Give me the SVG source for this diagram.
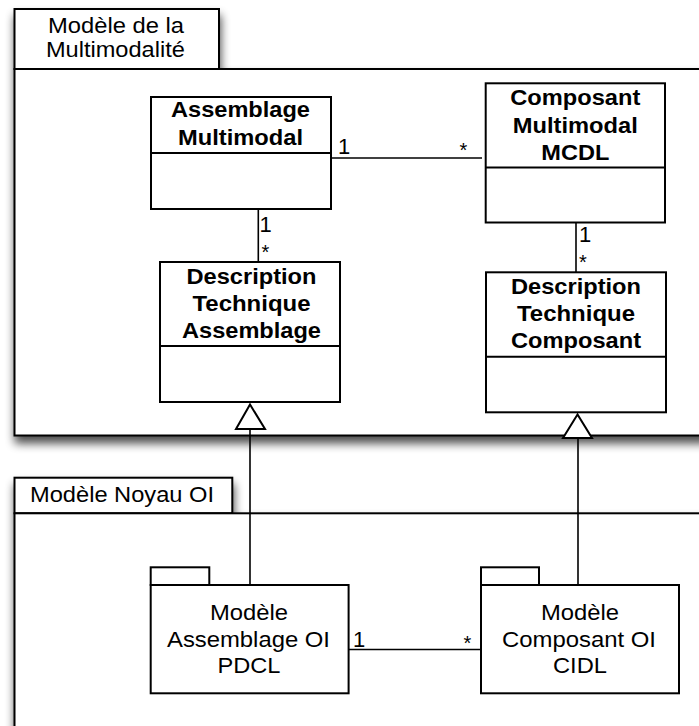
<svg xmlns="http://www.w3.org/2000/svg" width="699" height="726" viewBox="0 0 699 726">
<defs>
<style>
.pkg{fill:#fff;stroke:#000;stroke-width:2}
.cls{fill:#fff;stroke:#000;stroke-width:2}
.ln{stroke:#000;stroke-width:1.6;fill:none}
.tri{fill:#fff;stroke:#000;stroke-width:2;stroke-linejoin:miter}
.t{font-family:"Liberation Sans",Arial,Helvetica,sans-serif;font-size:22px;fill:#000;text-anchor:middle}
.b{font-weight:bold}
.m{font-family:"Liberation Sans",Arial,Helvetica,sans-serif;font-size:22px;fill:#000}
.s{font-family:"Liberation Sans",Arial,Helvetica,sans-serif;font-size:20px;fill:#000}
</style>
<filter id="shadow" x="-10%" y="-20%" width="125%" height="150%">
<feGaussianBlur in="SourceAlpha" stdDeviation="5"/>
<feOffset dx="1" dy="7" result="b"/>
<feComponentTransfer><feFuncA type="linear" slope="0.7"/></feComponentTransfer>
<feMerge><feMergeNode/><feMergeNode in="SourceGraphic"/></feMerge>
</filter>
</defs>
<rect width="699" height="726" fill="#fff"/>

<g id="pkg-multimodalite">
<g filter="url(#shadow)">
<rect class="pkg" x="14.5" y="9" width="204.5" height="60"/>
<rect class="pkg" x="14.5" y="69" width="720" height="366.5"/>
</g>
<text class="t" x="116" y="33.3" textLength="136" lengthAdjust="spacingAndGlyphs">Modèle de la</text>
<text class="t" x="115.4" y="56.7" textLength="139" lengthAdjust="spacingAndGlyphs">Multimodalité</text>
</g>

<g id="pkg-noyau">
<g filter="url(#shadow)">
<rect class="pkg" x="14.5" y="477.7" width="217.8" height="35.6"/>
<rect class="pkg" x="14.5" y="513.3" width="720" height="240"/>
</g>
<text class="t" x="122" y="501.7" textLength="184" lengthAdjust="spacingAndGlyphs">Modèle Noyau OI</text>
</g>

<g id="assemblage-multimodal">
<rect class="cls" x="151" y="97" width="180" height="112"/>
<line class="cls" x1="151" y1="153" x2="331" y2="153"/>
<text class="t b" x="240.5" y="117.3" textLength="139" lengthAdjust="spacingAndGlyphs">Assemblage</text>
<text class="t b" x="240.5" y="145" textLength="125" lengthAdjust="spacingAndGlyphs">Multimodal</text>
</g>

<g id="composant-multimodal">
<rect class="cls" x="485.7" y="83.3" width="179.3" height="139.2"/>
<line class="cls" x1="485.7" y1="167.5" x2="665" y2="167.5"/>
<text class="t b" x="575.3" y="105" textLength="130" lengthAdjust="spacingAndGlyphs">Composant</text>
<text class="t b" x="575.3" y="133.3" textLength="125" lengthAdjust="spacingAndGlyphs">Multimodal</text>
<text class="t b" x="575.3" y="160" textLength="68" lengthAdjust="spacingAndGlyphs">MCDL</text>
</g>

<g id="desc-tech-assemblage">
<rect class="cls" x="160" y="262" width="180" height="140"/>
<line class="cls" x1="160" y1="346" x2="340" y2="346"/>
<text class="t b" x="251.5" y="283.7" textLength="130" lengthAdjust="spacingAndGlyphs">Description</text>
<text class="t b" x="251.5" y="310.5" textLength="118" lengthAdjust="spacingAndGlyphs">Technique</text>
<text class="t b" x="251.5" y="338.3" textLength="139" lengthAdjust="spacingAndGlyphs">Assemblage</text>
</g>

<g id="desc-tech-composant">
<rect class="cls" x="486" y="272.3" width="180" height="140"/>
<line class="cls" x1="486" y1="356.7" x2="666" y2="356.7"/>
<text class="t b" x="576" y="293.7" textLength="130" lengthAdjust="spacingAndGlyphs">Description</text>
<text class="t b" x="576" y="321" textLength="118" lengthAdjust="spacingAndGlyphs">Technique</text>
<text class="t b" x="576" y="348.3" textLength="130" lengthAdjust="spacingAndGlyphs">Composant</text>
</g>

<g id="modele-assemblage-oi">
<rect class="cls" x="150.7" y="567.3" width="58.6" height="17.7"/>
<rect class="cls" x="150.7" y="585" width="197.9" height="108.3"/>
<text class="t" x="249" y="620" textLength="78" lengthAdjust="spacingAndGlyphs">Modèle</text>
<text class="t" x="248.5" y="646.7" textLength="163" lengthAdjust="spacingAndGlyphs">Assemblage OI</text>
<text class="t" x="249" y="673.3" textLength="63" lengthAdjust="spacingAndGlyphs">PDCL</text>
</g>

<g id="modele-composant-oi">
<rect class="cls" x="481" y="567.3" width="58" height="17.7"/>
<rect class="cls" x="481" y="585" width="198" height="108.3"/>
<text class="t" x="580" y="620" textLength="78" lengthAdjust="spacingAndGlyphs">Modèle</text>
<text class="t" x="579" y="646.7" textLength="154" lengthAdjust="spacingAndGlyphs">Composant OI</text>
<text class="t" x="580" y="673.3" textLength="54" lengthAdjust="spacingAndGlyphs">CIDL</text>
</g>

<g id="connectors">
<line class="ln" x1="331" y1="158" x2="482" y2="158"/>
<text class="m" x="338" y="154.3">1</text>
<text class="s" x="459.5" y="157.3">*</text>

<line class="ln" x1="258.3" y1="209" x2="258.3" y2="262"/>
<text class="m" x="259.5" y="231.7">1</text>
<text class="s" x="261.5" y="259.3">*</text>

<line class="ln" x1="576" y1="222.5" x2="576" y2="272.3"/>
<text class="m" x="579" y="241.7">1</text>
<text class="s" x="579" y="269.3">*</text>

<line class="ln" x1="348.6" y1="649.5" x2="481" y2="649.5"/>
<text class="m" x="353" y="646.7">1</text>
<text class="s" x="463.5" y="650.3">*</text>

<line class="ln" x1="250" y1="429" x2="250" y2="585"/>
<polygon class="tri" points="250,404.5 236,429 265,429"/>

<line class="ln" x1="578" y1="438" x2="578" y2="585"/>
<polygon class="tri" points="577.5,414.5 563,438 592,438"/>
</g>
</svg>
